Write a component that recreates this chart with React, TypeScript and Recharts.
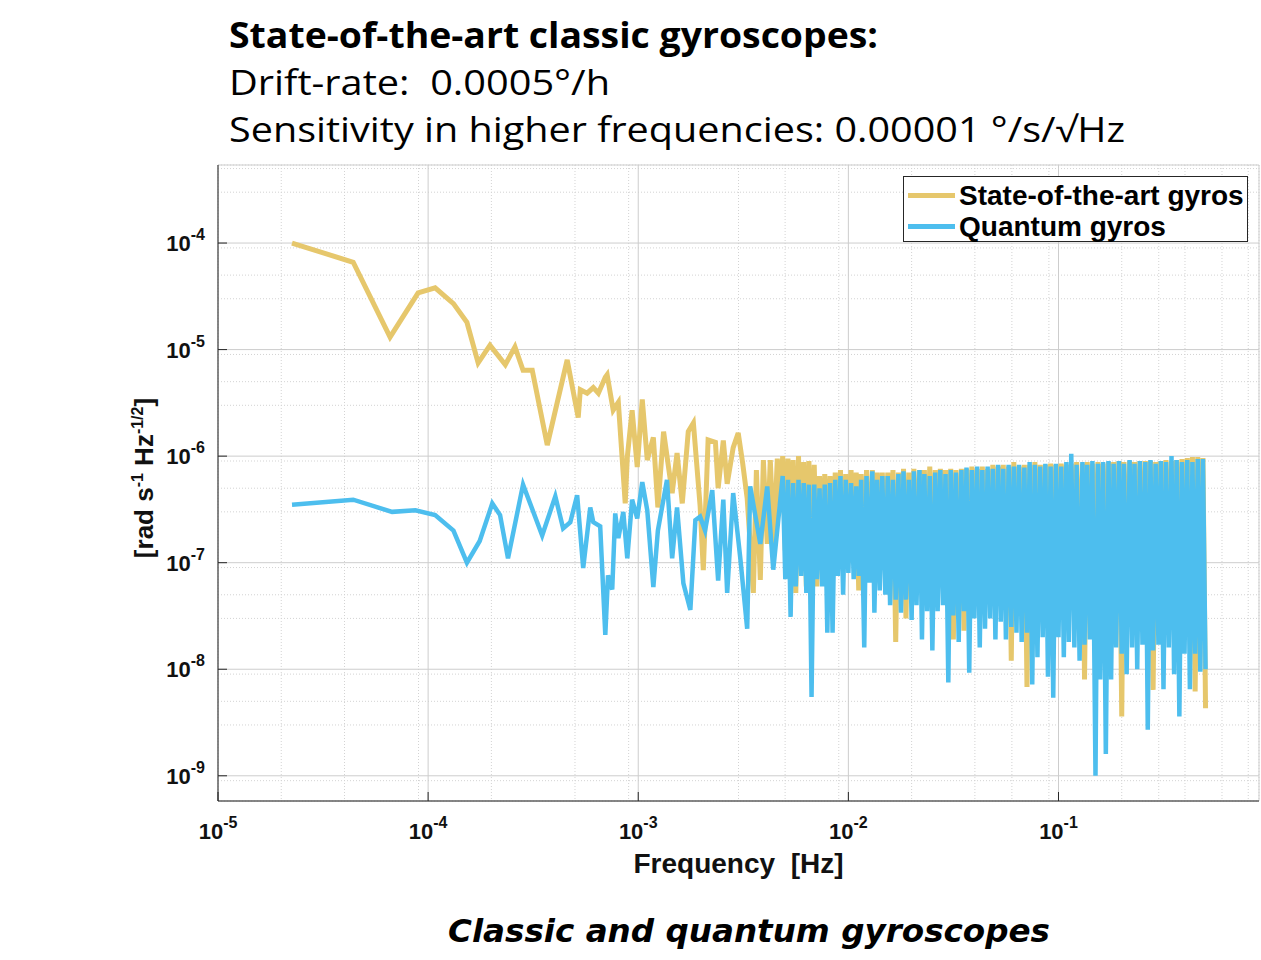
import React from "react";
import { LineChart, Line, XAxis, YAxis, CartesianGrid, Legend } from "recharts";

const seriesNames = ["State-of-the-art gyros", "Quantum gyros"];

const xMajorTicks = [1e-5, 1e-4, 1e-3, 1e-2, 1e-1];
const xMinorTicks = [
  2e-5, 3e-5, 4e-5, 5e-5, 6e-5, 7e-5, 8e-5, 9e-5,
  2e-4, 3e-4, 4e-4, 5e-4, 6e-4, 7e-4, 8e-4, 9e-4,
  2e-3, 3e-3, 4e-3, 5e-3, 6e-3, 7e-3, 8e-3, 9e-3,
  2e-2, 3e-2, 4e-2, 5e-2, 6e-2, 7e-2, 8e-2, 9e-2,
  0.2, 0.3, 0.4, 0.5, 0.6, 0.7, 0.8,
];
const yMajorTicks = [1e-9, 1e-8, 1e-7, 1e-6, 1e-5, 1e-4];
const yMinorTicks = [
  6e-10, 7e-10, 8e-10, 9e-10,
  2e-9, 3e-9, 4e-9, 5e-9, 6e-9, 7e-9, 8e-9, 9e-9,
  2e-8, 3e-8, 4e-8, 5e-8, 6e-8, 7e-8, 8e-8, 9e-8,
  2e-7, 3e-7, 4e-7, 5e-7, 6e-7, 7e-7, 8e-7, 9e-7,
  2e-6, 3e-6, 4e-6, 5e-6, 6e-6, 7e-6, 8e-6, 9e-6,
  2e-5, 3e-5, 4e-5, 5e-5, 6e-5, 7e-5, 8e-5, 9e-5,
  2e-4, 3e-4, 4e-4, 5e-4,
];
const xDomain = [1e-5, 0.9];
const yDomain = [5.8e-10, 5.4e-4];

// low-frequency part, state-of-the-art gyros [Hz] / [rad s^-1 Hz^-1/2]
const classicFreq = [
  2.25e-5, 4.4e-5, 6.59e-5, 8.96e-5, 1.08e-4, 1.32e-4, 1.53e-4, 1.73e-4,
  1.97e-4, 2.33e-4, 2.59e-4, 2.83e-4, 3.13e-4, 3.69e-4, 4.59e-4, 5.18e-4,
  5.3e-4, 5.71e-4, 6.11e-4, 6.46e-4, 6.97e-4, 7.11e-4, 7.6e-4, 8.04e-4,
  8.67e-4, 8.87e-4, 9.35e-4, 9.89e-4, 1.045e-3, 1.104e-3, 1.18e-3, 1.24e-3,
  1.32e-3, 1.45e-3, 1.53e-3, 1.62e-3, 1.73e-3, 1.83e-3, 1.97e-3, 2.04e-3,
  2.15e-3, 2.33e-3, 2.4e-3, 2.54e-3, 2.65e-3, 2.83e-3, 2.99e-3, 3.14e-3,
  3.3e-3, 3.53e-3, 3.65e-3, 3.81e-3, 3.94e-3, 4.11e-3, 4.25e-3, 4.42e-3,
  4.59e-3, 4.72e-3,
];
const classicVal = [
  1.0e-4, 6.6e-5, 1.31e-5, 3.4e-5, 3.8e-5, 2.7e-5, 1.8e-5, 7.5e-6,
  1.1e-5, 7.2e-6, 1.06e-5, 6.4e-6, 6.4e-6, 1.27e-6, 8.0e-6, 2.3e-6,
  4.2e-6, 3.9e-6, 4.4e-6, 3.9e-6, 5.5e-6, 5.8e-6, 2.7e-6, 3.2e-6,
  3.6e-7, 9.8e-7, 2.7e-6, 7.9e-7, 3.4e-6, 9.2e-7, 1.5e-6, 3.3e-7,
  1.7e-6, 4.5e-7, 1.07e-6, 3.6e-7, 1.7e-6, 2.05e-6, 3.4e-7, 8.5e-8,
  1.42e-6, 1.35e-6, 5.0e-7, 1.4e-6, 5.5e-7, 1.2e-6, 1.65e-6, 8.6e-7,
  4.0e-7, 5.2e-8, 7.4e-7, 6.9e-8, 9.2e-7, 1.5e-7, 9.2e-7, 1.5e-7,
  9.5e-7, 3.5e-7,
];

// low-frequency part, quantum gyros
const quantumFreq = [
  2.25e-5, 4.4e-5, 6.74e-5, 8.7e-5, 1.08e-4, 1.32e-4, 1.53e-4, 1.76e-4,
  2.02e-4, 2.2e-4, 2.4e-4, 2.83e-4, 3.49e-4, 4.03e-4, 4.39e-4, 4.75e-4,
  5.12e-4, 5.47e-4, 5.91e-4, 6.11e-4, 6.59e-4, 6.97e-4, 7.18e-4, 7.52e-4,
  7.77e-4, 8.04e-4, 8.49e-4, 8.87e-4, 9.35e-4, 9.89e-4, 1.045e-3, 1.104e-3,
  1.18e-3, 1.24e-3, 1.37e-3, 1.45e-3, 1.53e-3, 1.64e-3, 1.77e-3, 1.87e-3,
  1.97e-3, 2.08e-3, 2.25e-3, 2.4e-3, 2.54e-3, 2.65e-3, 2.83e-3, 3.06e-3,
  3.3e-3, 3.41e-3, 3.81e-3, 4.11e-3, 4.39e-3,
];
const quantumVal = [
  3.5e-7, 3.9e-7, 3.0e-7, 3.1e-7, 2.8e-7, 2.0e-7, 1.0e-7, 1.6e-7,
  3.6e-7, 2.8e-7, 1.1e-7, 5.4e-7, 1.8e-7, 4.2e-7, 2.1e-7, 2.4e-7,
  4.3e-7, 8.9e-8, 3.3e-7, 2.4e-7, 2.2e-7, 2.1e-8, 7.6e-8, 5.6e-8,
  2.9e-7, 1.7e-7, 3.0e-7, 1.1e-7, 3.9e-7, 2.6e-7, 5.7e-7, 3.1e-7,
  5.9e-8, 2.0e-7, 6.0e-7, 1.1e-7, 3.3e-7, 6.4e-8, 3.6e-8, 2.5e-7,
  2.7e-7, 2.0e-7, 4.8e-7, 6.8e-8, 3.9e-7, 5.2e-8, 4.5e-7, 1.1e-7,
  2.4e-8, 5.2e-7, 1.5e-7, 5.2e-7, 8.6e-8,
];

// high-frequency part, both series read on the same frequency points
const denseFreq = [
  4.87e-3, 5.01e-3, 5.16e-3, 5.31e-3, 5.46e-3, 5.62e-3, 5.79e-3, 5.96e-3, 6.13e-3, 6.31e-3,
  6.49e-3, 6.68e-3, 6.88e-3, 7.08e-3, 7.29e-3, 7.5e-3, 7.72e-3, 7.94e-3, 8.18e-3, 8.41e-3,
  8.66e-3, 8.91e-3, 9.17e-3, 9.44e-3, 9.72e-3,
  1.0e-2, 1.03e-2, 1.06e-2, 1.09e-2, 1.12e-2, 1.15e-2, 1.19e-2, 1.22e-2, 1.26e-2, 1.3e-2,
  1.33e-2, 1.37e-2, 1.41e-2, 1.45e-2, 1.5e-2, 1.54e-2, 1.58e-2, 1.63e-2, 1.68e-2, 1.73e-2,
  1.78e-2, 1.83e-2, 1.88e-2, 1.94e-2, 2.0e-2, 2.05e-2, 2.11e-2, 2.18e-2, 2.24e-2, 2.3e-2,
  2.37e-2, 2.44e-2, 2.51e-2, 2.59e-2, 2.66e-2, 2.74e-2, 2.82e-2, 2.9e-2, 2.99e-2, 3.07e-2,
  3.16e-2, 3.25e-2, 3.35e-2, 3.45e-2, 3.55e-2, 3.65e-2, 3.76e-2, 3.87e-2, 3.98e-2, 4.1e-2,
  4.22e-2, 4.34e-2, 4.47e-2, 4.6e-2, 4.73e-2, 4.87e-2, 5.01e-2, 5.16e-2, 5.31e-2, 5.46e-2,
  5.62e-2, 5.79e-2, 5.96e-2, 6.13e-2, 6.31e-2, 6.49e-2, 6.68e-2, 6.88e-2, 7.08e-2, 7.29e-2,
  7.5e-2, 7.72e-2, 7.94e-2, 8.18e-2, 8.41e-2, 8.66e-2, 8.91e-2, 9.17e-2, 9.44e-2, 9.72e-2,
  0.1, 0.103, 0.106, 0.109, 0.112, 0.115, 0.119, 0.122, 0.126, 0.13,
  0.133, 0.137, 0.141, 0.145, 0.15, 0.154, 0.158, 0.163, 0.168, 0.173,
  0.178, 0.183, 0.188, 0.194, 0.2, 0.205, 0.211, 0.218, 0.224, 0.23,
  0.237, 0.244, 0.251, 0.259, 0.266, 0.274, 0.282, 0.29, 0.299, 0.307,
  0.316, 0.325, 0.335, 0.345, 0.355, 0.365, 0.376, 0.387, 0.398, 0.41,
  0.422, 0.434, 0.447, 0.46, 0.473, 0.487, 0.501,
];
const classicDense = [
  1.0e-6, 1.3e-7, 9.5e-7, 1.0e-7, 9.2e-7, 5.2e-8, 1.0e-6, 1.0e-7, 8.8e-7, 6.0e-8,
  9.0e-7, 1.0e-7, 8.3e-7, 6.0e-8, 6.5e-7, 1.0e-7, 6.8e-7, 1.0e-7, 6.5e-7, 1.0e-7,
  7.0e-7, 1.0e-7, 7.4e-7, 1.0e-7, 6.8e-7, 1.0e-7, 7.4e-7, 1.0e-7, 7.0e-7, 5.5e-8,
  6.8e-7, 1.0e-7, 7.4e-7, 1.0e-7, 7.4e-7, 1.0e-7, 7.0e-7, 1.0e-7, 7.0e-7, 1.0e-7,
  7.0e-7, 8.0e-8, 7.4e-7, 1.8e-8, 7.0e-7, 8.0e-8, 7.6e-7, 3.0e-8, 7.0e-7, 8.0e-8,
  7.6e-7, 8.0e-8, 7.4e-7, 8.0e-8, 7.4e-7, 8.0e-8, 8.0e-7, 8.0e-8, 7.4e-7, 8.0e-8,
  7.6e-7, 8.0e-8, 7.4e-7, 8.0e-8, 7.6e-7, 1.9e-8, 7.4e-7, 8.0e-8, 7.6e-7, 2.3e-8,
  7.6e-7, 6.0e-8, 8.0e-7, 6.0e-8, 7.6e-7, 6.0e-8, 8.0e-7, 6.0e-8, 7.6e-7, 6.0e-8,
  8.3e-7, 6.0e-8, 8.0e-7, 6.0e-8, 8.3e-7, 6.0e-8, 8.0e-7, 1.2e-8, 8.8e-7, 6.0e-8,
  8.0e-7, 6.0e-8, 8.3e-7, 6.8e-9, 8.3e-7, 6.0e-8, 8.8e-7, 6.0e-8, 8.3e-7, 6.0e-8,
  8.3e-7, 6.0e-8, 8.5e-7, 6.0e-8, 8.3e-7, 6.0e-8, 8.5e-7, 6.0e-8, 8.3e-7, 6.0e-8,
  8.5e-7, 6.0e-8, 8.8e-7, 6.0e-8, 8.5e-7, 8.0e-9, 8.8e-7, 6.0e-8, 8.5e-7, 6.0e-8,
  8.8e-7, 6.0e-8, 8.5e-7, 6.0e-8, 8.8e-7, 6.0e-8, 8.8e-7, 6.0e-8, 9.0e-7, 3.6e-9,
  8.8e-7, 6.0e-8, 9.0e-7, 6.0e-8, 8.8e-7, 6.0e-8, 9.0e-7, 6.0e-8, 9.0e-7, 6.0e-8,
  9.0e-7, 6.4e-9, 8.8e-7, 6.0e-8, 9.0e-7, 6.0e-8, 9.2e-7, 6.0e-8, 9.0e-7, 6.0e-8,
  9.2e-7, 6.0e-8, 9.4e-7, 6.0e-8, 9.6e-7, 6.0e-8, 9.8e-7, 6.2e-9, 9.8e-7, 6.0e-8,
  9.6e-7, 4.3e-9,
];
const quantumDense = [
  6.5e-7, 7.0e-8, 6.0e-7, 3.1e-8, 5.6e-7, 6.0e-8, 6.0e-7, 7.5e-8, 5.6e-7, 5.2e-8,
  5.4e-7, 5.5e-9, 5.4e-7, 7.0e-8, 5.0e-7, 6.0e-8, 5.4e-7, 2.2e-8, 5.6e-7, 2.2e-8,
  6.0e-7, 7.5e-8, 6.5e-7, 5.0e-8, 6.0e-7, 8.0e-8, 5.6e-7, 7.0e-8, 5.2e-7, 7.5e-8,
  6.0e-7, 1.6e-8, 6.5e-7, 6.5e-8, 7.2e-7, 3.4e-8, 6.0e-7, 5.5e-8, 6.5e-7, 5.0e-8,
  6.5e-7, 4.0e-8, 6.0e-7, 4.5e-8, 6.8e-7, 3.4e-8, 7.2e-7, 4.5e-8, 6.0e-7, 2.9e-8,
  7.2e-7, 4.0e-8, 7.4e-7, 1.9e-8, 6.8e-7, 3.5e-8, 6.5e-7, 1.5e-8, 7.0e-7, 3.5e-8,
  7.4e-7, 4.0e-8, 6.8e-7, 7.5e-9, 7.4e-7, 3.2e-8, 7.0e-7, 1.8e-8, 7.4e-7, 3.5e-8,
  7.8e-7, 9.3e-9, 7.4e-7, 3.0e-8, 8.0e-7, 1.6e-8, 7.4e-7, 2.4e-8, 8.0e-7, 3.0e-8,
  7.6e-7, 1.9e-8, 8.3e-7, 2.8e-8, 7.6e-7, 1.9e-8, 8.3e-7, 2.5e-8, 8.0e-7, 2.2e-8,
  8.3e-7, 1.8e-8, 7.8e-7, 2.2e-8, 8.8e-7, 7.2e-9, 8.3e-7, 1.3e-8, 8.0e-7, 2.0e-8,
  8.5e-7, 8.5e-9, 8.0e-7, 5.4e-9, 8.5e-7, 2.0e-8, 8.0e-7, 1.3e-8, 8.8e-7, 1.8e-8,
  1.05e-6, 1.6e-8, 8.3e-7, 1.2e-8, 8.8e-7, 1.7e-8, 8.3e-7, 1.9e-8, 9.0e-7, 1.0e-9,
  8.5e-7, 8.0e-9, 8.8e-7, 1.6e-9, 9.0e-7, 8.0e-9, 8.5e-7, 1.6e-8, 9.0e-7, 1.4e-8,
  8.5e-7, 9.0e-9, 9.2e-7, 1.6e-8, 8.5e-7, 1.0e-8, 9.0e-7, 1.7e-8, 8.8e-7, 2.7e-9,
  9.2e-7, 1.5e-8, 8.5e-7, 1.7e-8, 9.0e-7, 6.5e-9, 8.8e-7, 1.6e-8, 1.0e-6, 9.0e-9,
  9.2e-7, 3.6e-9, 8.8e-7, 1.4e-8, 9.2e-7, 6.5e-9, 8.8e-7, 1.4e-8, 9.4e-7, 9.5e-9,
  9.4e-7, 1.0e-8,
];

const classicColor = "#E6C76C";
const quantumColor = "#4DBEEE";
const axisColor = "#262626";
const tickFont = "'Liberation Sans', Arial, Helvetica, sans-serif";

const toPoints = (freq: number[], val: number[]) =>
  freq.map((f, i) => ({ f, v: val[i] }));

const classicData = [
  ...toPoints(classicFreq, classicVal),
  ...toPoints(denseFreq, classicDense),
];
const quantumData = [
  ...toPoints(quantumFreq, quantumVal),
  ...toPoints(denseFreq, quantumDense),
];

const exponent = (v: number) => String(Math.round(Math.log10(v)));

function XTick({ x, y, payload }: any) {
  return (
    <text
      x={x}
      y={y + 47}
      textAnchor="middle"
      fontFamily={tickFont}
      fontWeight="bold"
      fontSize={22}
      fill="#111"
    >
      10
      <tspan dy={-11} fontSize={16}>
        {exponent(payload.value)}
      </tspan>
    </text>
  );
}

function YTick({ x, y, payload }: any) {
  return (
    <text
      x={x - 22}
      y={y + 8}
      textAnchor="end"
      fontFamily={tickFont}
      fontWeight="bold"
      fontSize={22}
      fill="#111"
    >
      10
      <tspan dy={-11} fontSize={16}>
        {exponent(payload.value)}
      </tspan>
    </text>
  );
}

const noTick = () => <g />;

function XLabel({ viewBox }: any) {
  if (!viewBox) return null;
  return (
    <text
      x={viewBox.x + viewBox.width / 2}
      y={viewBox.y + 72}
      textAnchor="middle"
      fontFamily={tickFont}
      fontWeight="bold"
      fontSize={28}
      fill="#111"
      style={{ whiteSpace: "pre" }}
    >
      {"Frequency  [Hz]"}
    </text>
  );
}

function YLabel({ viewBox }: any) {
  if (!viewBox) return null;
  const cx = viewBox.x + 15;
  const cy = viewBox.y + viewBox.height / 2 - 5;
  return (
    <text
      transform={`translate(${cx}, ${cy}) rotate(-90)`}
      textAnchor="middle"
      fontFamily={tickFont}
      fontWeight="bold"
      fontSize={26}
      fill="#111"
    >
      [rad s
      <tspan dy={-10} fontSize={16}>-1</tspan>
      <tspan dy={10}> Hz</tspan>
      <tspan dy={-10} fontSize={16}>-1/2</tspan>
      <tspan dy={10}>]</tspan>
    </text>
  );
}

function LegendBox({ payload }: any) {
  const items = (payload || []) as any[];
  return (
    <div
      style={{
        boxSizing: "border-box",
        width: 345,
        height: 66,
        border: `1px solid ${axisColor}`,
        background: "#fff",
        paddingTop: 3,
        paddingLeft: 4,
        fontFamily: tickFont,
        fontWeight: 700,
        fontSize: 28,
        color: "#000",
      }}
    >
      {items.map((p) => (
        <div
          key={p.value}
          style={{ display: "flex", alignItems: "center", height: 31 }}
        >
          <span
            style={{
              display: "inline-block",
              width: 47,
              height: 5,
              background: p.color,
              marginRight: 4,
            }}
          />
          <span style={{ lineHeight: "31px", whiteSpace: "nowrap" }}>
            {p.value}
          </span>
        </div>
      ))}
    </div>
  );
}

export default function App() {
  return (
    <div
      style={{
        position: "absolute",
        left: 0,
        top: 0,
        width: 1261,
        height: 960,
        background: "#fff",
      }}
    >
      <svg
        width={1261}
        height={960}
        style={{ position: "absolute", left: 0, top: 0, pointerEvents: "none" }}
      >
        <g fontFamily="'Open Sans', Lato, sans-serif" fontSize={35} fill="#000">
          <text x={229} y={48} fontWeight="bold" textLength={649} lengthAdjust="spacingAndGlyphs">
            State-of-the-art classic gyroscopes:
          </text>
          <text x={229} y={95} style={{ whiteSpace: "pre" }} textLength={381} lengthAdjust="spacingAndGlyphs">
            {"Drift-rate:  0.0005°/h"}
          </text>
          <text x={229} y={142} textLength={896} lengthAdjust="spacingAndGlyphs">
            Sensitivity in higher frequencies: 0.00001 °/s/√Hz
          </text>
        </g>
        <text
          x={448}
          y={942}
          fontFamily="'DejaVu Sans', Verdana, sans-serif"
          fontWeight="bold"
          fontStyle="italic"
          fontSize={32.5}
          fill="#000"
          textLength={602}
          lengthAdjust="spacingAndGlyphs"
        >
          Classic and quantum gyroscopes
        </text>
      </svg>
      <div style={{ position: "absolute", left: 0, top: 0 }}>
        <LineChart
          width={1261}
          height={960}
          margin={{ top: 165, right: 2, bottom: 109, left: 138 }}
        >
          {/* zero-size helper axes for minor ticks and the mirrored box ticks */}
          <XAxis xAxisId="xm" dataKey="f" type="number" scale="log" domain={xDomain} allowDataOverflow
            ticks={xMinorTicks} height={0} tickSize={-5} tick={noTick} axisLine={false}
            tickLine={{ stroke: axisColor }} />
          <XAxis xAxisId="xt" orientation="top" dataKey="f" type="number" scale="log" domain={xDomain}
            allowDataOverflow ticks={xMajorTicks} height={0} tickSize={-9} tick={noTick}
            axisLine={{ stroke: axisColor }} tickLine={{ stroke: axisColor }} />
          <XAxis xAxisId="xtm" orientation="top" dataKey="f" type="number" scale="log" domain={xDomain}
            allowDataOverflow ticks={xMinorTicks} height={0} tickSize={-5} tick={noTick}
            axisLine={false} tickLine={{ stroke: axisColor }} />
          <YAxis yAxisId="ym" type="number" scale="log" domain={yDomain} allowDataOverflow
            ticks={yMinorTicks} width={0} tickSize={-5} tick={noTick} axisLine={false}
            tickLine={{ stroke: axisColor }} />
          <YAxis yAxisId="yr" orientation="right" type="number" scale="log" domain={yDomain}
            allowDataOverflow ticks={yMajorTicks} width={0} tickSize={-9} tick={noTick}
            axisLine={{ stroke: axisColor }} tickLine={{ stroke: axisColor }} />
          <YAxis yAxisId="yrm" orientation="right" type="number" scale="log" domain={yDomain}
            allowDataOverflow ticks={yMinorTicks} width={0} tickSize={-5} tick={noTick}
            axisLine={false} tickLine={{ stroke: axisColor }} />

          <XAxis
            xAxisId="x"
            dataKey="f"
            type="number"
            scale="log"
            domain={xDomain}
            allowDataOverflow
            ticks={xMajorTicks}
            height={50}
            tickSize={-9}
            tickMargin={0}
            tick={XTick}
            axisLine={{ stroke: axisColor }}
            tickLine={{ stroke: axisColor }}
            label={XLabel}
          />
          <YAxis
            yAxisId="y"
            type="number"
            scale="log"
            domain={yDomain}
            allowDataOverflow
            ticks={yMajorTicks}
            width={80}
            tickSize={-9}
            tickMargin={0}
            tick={YTick}
            axisLine={{ stroke: axisColor }}
            tickLine={{ stroke: axisColor }}
            label={YLabel}
          />

          <CartesianGrid xAxisId="xm" yAxisId="ym" stroke="#d3d3d3" strokeDasharray="1 2" />
          <CartesianGrid xAxisId="x" yAxisId="y" stroke="#cdcdcd" />

          <Line
            xAxisId="x"
            yAxisId="y"
            name={seriesNames[0]}
            data={classicData}
            dataKey="v"
            type="linear"
            stroke={classicColor}
            strokeWidth={5}
            dot={false}
            activeDot={false}
            isAnimationActive={false}
          />
          <Line
            xAxisId="x"
            yAxisId="y"
            name={seriesNames[1]}
            data={quantumData}
            dataKey="v"
            type="linear"
            stroke={quantumColor}
            strokeWidth={4.5}
            dot={false}
            activeDot={false}
            isAnimationActive={false}
          />
          <Legend
            layout="horizontal"
            verticalAlign="middle"
            align="center"
            itemSorter={(item: any) => seriesNames.indexOf(item.value)}
            wrapperStyle={{ top: 176, left: 903, width: 345, height: 66 }}
            content={(props: any) => <LegendBox payload={props.payload} />}
          />
        </LineChart>
      </div>
    </div>
  );
}
